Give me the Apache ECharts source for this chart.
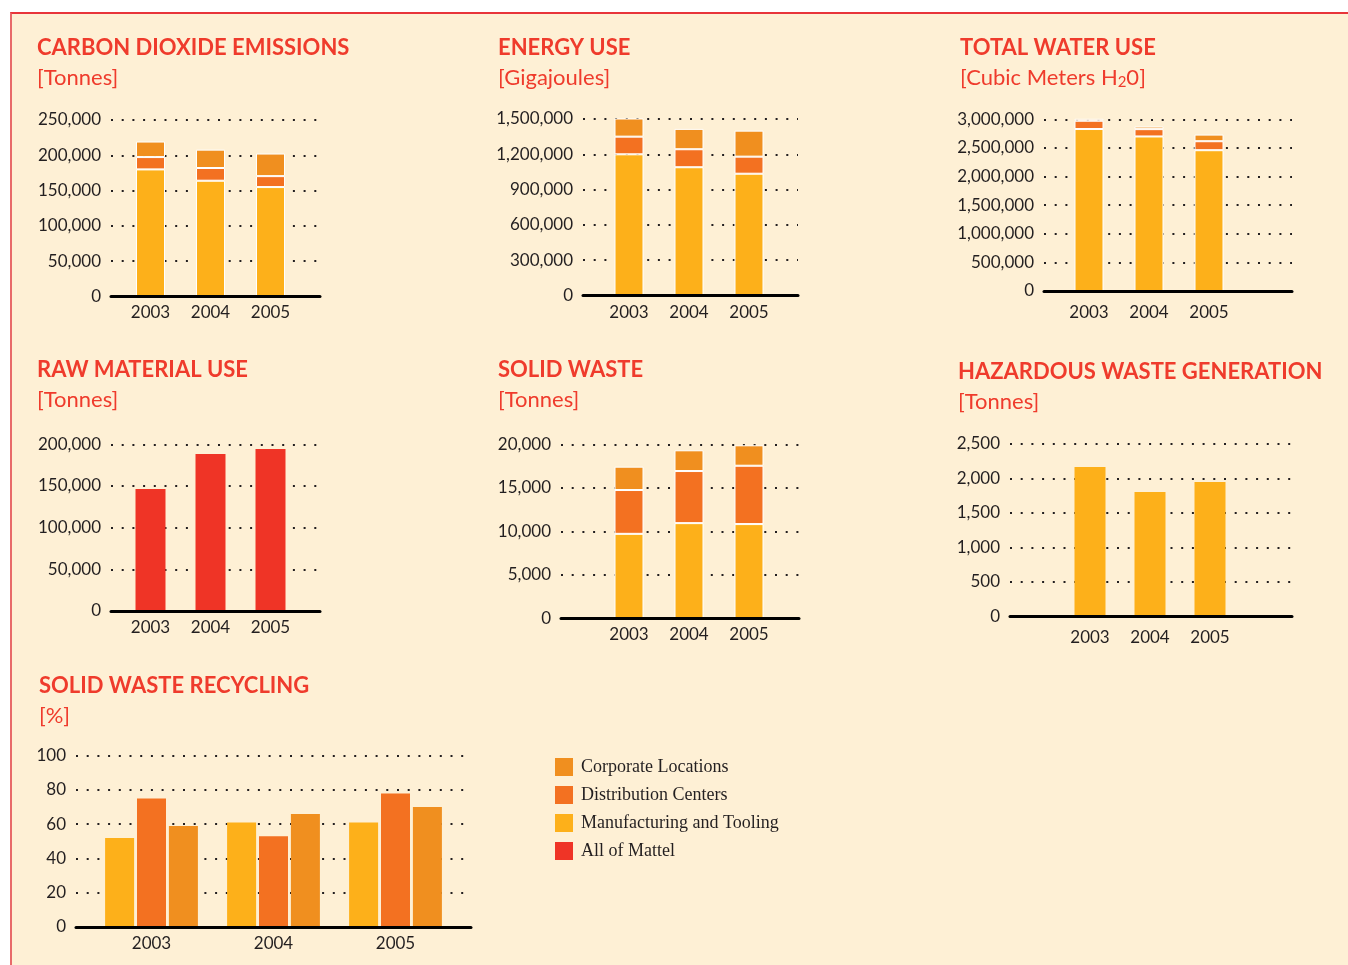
<!DOCTYPE html>
<html>
<head>
<meta charset="utf-8">
<script src="https://cdn.jsdelivr.net/npm/echarts@6/dist/echarts.min.js"></script>
<style>
html,body{margin:0;padding:0;background:#fff;width:1348px;height:965px;overflow:hidden;}
#bg{position:absolute;left:10px;top:12px;width:1340px;height:960px;background:#FEF0D5;border-top:2px solid #E8353A;border-left:2px solid #E86A6A;}
#chart{position:absolute;left:0;top:0;width:1348px;height:965px;}
</style>
</head>
<body>
<div id="bg"></div>
<div id="chart"></div>
<script>
// ---- Data ----
const years = ['2003', '2004', '2005'];
const legendNames = ['Corporate Locations', 'Distribution Centers', 'Manufacturing and Tooling', 'All of Mattel'];

const co2Manufacturing = [180000, 164000, 155000];
const co2Distribution = [17500, 18000, 15500];
const co2Corporate = [22000, 26000, 32000];

const energyManufacturing = [1200000, 1090000, 1035000];
const energyDistribution = [150000, 153000, 145000];
const energyCorporate = [155000, 173000, 221000];

const waterManufacturing = [2830000, 2700000, 2460000];
const waterDistribution = [145000, 128000, 157000];
const waterCorporate = [70000, 45000, 116000];

const rawAllOfMattel = [146400, 188400, 194400];

const solidManufacturing = [9720, 10950, 10840];
const solidDistribution = [5030, 5980, 6700];
const solidCorporate = [2680, 2380, 2345];

const hazardManufacturing = [2166, 1804, 1949];

const recycleManufacturing = [52, 61, 61];
const recycleDistribution = [75, 53, 78];
const recycleCorporate = [59, 66, 70];

// ---- Styles ----
const COL = { corp: '#F08F1F', dist: '#F37121', mfg: '#FDB01A', all: '#EF3426' };
const RED = '#EF3B2C';
const INK = '#231F20';
const SANS = 'Lato, "Open Sans", sans-serif';

function stack3(m, d, c) {
  return [
    { name: 'Manufacturing and Tooling', data: m, color: COL.mfg },
    { name: 'Distribution Centers', data: d, color: COL.dist },
    { name: 'Corporate Locations', data: c, color: COL.corp }
  ];
}

const panels = [
  { title: 'CARBON DIOXIDE EMISSIONS', unit: '[Tonnes]', tx: 37, ty: 36,
    wide: [111, 320], narrow: [120.5, 300.5], y: [120, 296.5], max: 250000, interval: 50000, xm: 8,
    stack: true, barWidth: 29, border: 1, series: stack3(co2Manufacturing, co2Distribution, co2Corporate) },
  { title: 'ENERGY USE', unit: '[Gigajoules]', tx: 498, ty: 36,
    wide: [583, 798], narrow: [599, 779], y: [119, 295.5], max: 1500000, interval: 300000, xm: 9,
    stack: true, barWidth: 29, border: 1, series: stack3(energyManufacturing, energyDistribution, energyCorporate) },
  { title: 'TOTAL WATER USE', unit: '[Cubic Meters H{sub|2}0]', tx: 960, ty: 36,
    wide: [1044, 1292], narrow: [1059, 1239], y: [119.3, 291], max: 3000000, interval: 500000, xm: 13,
    stack: true, barWidth: 29, border: 1, series: stack3(waterManufacturing, waterDistribution, waterCorporate) },
  { title: 'RAW MATERIAL USE', unit: '[Tonnes]', tx: 37, ty: 358,
    wide: [111, 320], narrow: [120.5, 300.5], y: [444.3, 611], max: 200000, interval: 50000, xm: 8,
    stack: false, barWidth: 30, border: 0, series: [{ name: 'All of Mattel', data: rawAllOfMattel, color: COL.all }] },
  { title: 'SOLID WASTE', unit: '[Tonnes]', tx: 498, ty: 358,
    wide: [561, 799], narrow: [599, 779], y: [444.3, 618.5], max: 20000, interval: 5000, xm: 8,
    stack: true, barWidth: 29, border: 1, series: stack3(solidManufacturing, solidDistribution, solidCorporate) },
  { title: 'HAZARDOUS WASTE GENERATION', unit: '[Tonnes]', tx: 958, ty: 359.5,
    wide: [1010, 1292], narrow: [1060, 1240], y: [444, 616.5], max: 2500, interval: 500, xm: 13,
    stack: false, barWidth: 31, border: 0, series: [{ name: 'Manufacturing and Tooling', data: hazardManufacturing, color: COL.mfg }] },
  { title: 'SOLID WASTE RECYCLING', unit: '[%]', tx: 39, ty: 673.7,
    wide: [76, 471], narrow: [90.5, 456.5], y: [755.7, 927], max: 100, interval: 20, xm: 8,
    stack: false, barWidth: 29, barGap: '10%', border: 0,
    series: [
      { name: 'Manufacturing and Tooling', data: recycleManufacturing, color: COL.mfg },
      { name: 'Distribution Centers', data: recycleDistribution, color: COL.dist },
      { name: 'Corporate Locations', data: recycleCorporate, color: COL.corp }
    ] }
];

const option = {
  animation: false,
  backgroundColor: 'transparent',
  title: [],
  legend: {
    orient: 'vertical', left: 555, top: 758, padding: 0,
    itemWidth: 18, itemHeight: 18, itemGap: 10, icon: 'rect',
    itemStyle: { borderWidth: 0 },
    data: legendNames,
    textStyle: { fontFamily: '"Liberation Serif", "DejaVu Serif", serif', fontSize: 18, color: INK, padding: [4, 0, 0, 3] }
  },
  grid: [], xAxis: [], yAxis: [], series: []
};

panels.forEach((p, i) => {
  option.title.push({
    text: p.title, subtext: p.unit, left: p.tx, top: p.ty, padding: 0, itemGap: 6,
    textStyle: { color: RED, fontFamily: SANS, fontSize: 22, fontWeight: 'bold', lineHeight: 24 },
    subtextStyle: { color: RED, fontFamily: SANS, fontSize: 22, lineHeight: 24,
      rich: { sub: { color: RED, fontFamily: SANS, fontSize: 15, lineHeight: 14, verticalAlign: 'bottom' } } }
  });
  const g = option.grid.length;
  const h = p.y[1] - p.y[0];
  option.grid.push({ left: p.wide[0], top: p.y[0], width: p.wide[1] - p.wide[0], height: h });
  option.grid.push({ left: p.narrow[0], top: p.y[0], width: p.narrow[1] - p.narrow[0], height: h });
  option.xAxis.push({
    gridIndex: g, type: 'value', min: 0, max: 1, z: 3, position: 'bottom',
    axisLine: { show: true, onZero: false, lineStyle: { color: '#000', width: 3 } },
    axisTick: { show: false }, axisLabel: { show: false }, splitLine: { show: false }
  });
  option.xAxis.push({
    gridIndex: g + 1, type: 'category', data: years,
    axisLine: { show: false }, axisTick: { show: false }, splitLine: { show: false },
    axisLabel: { margin: p.xm, color: INK, fontFamily: SANS, fontSize: 17 }
  });
  option.yAxis.push({
    gridIndex: g, type: 'value', min: 0, max: p.max, interval: p.interval,
    axisLine: { show: false }, axisTick: { show: false },
    axisLabel: { margin: 10, color: INK, fontFamily: SANS, fontSize: 17,
      formatter: v => v.toLocaleString('en-US') },
    splitLine: { show: true, lineStyle: { type: [2, 8.7], color: INK, width: 1.8 } }
  });
  option.yAxis.push({ gridIndex: g + 1, type: 'value', min: 0, max: p.max, show: false });
  p.series.forEach(s => {
    option.series.push({
      type: 'bar', name: s.name, xAxisIndex: g + 1, yAxisIndex: g + 1,
      stack: p.stack ? 'stack' + i : undefined,
      data: s.data, barWidth: p.barWidth, barGap: p.barGap || '30%',
      itemStyle: { color: s.color, borderColor: '#fff', borderWidth: p.border },
      emphasis: { disabled: true }
    });
  });
});

const chart = echarts.init(document.getElementById('chart'), null, { renderer: 'canvas' });
chart.setOption(option);
</script>
</body>
</html>
